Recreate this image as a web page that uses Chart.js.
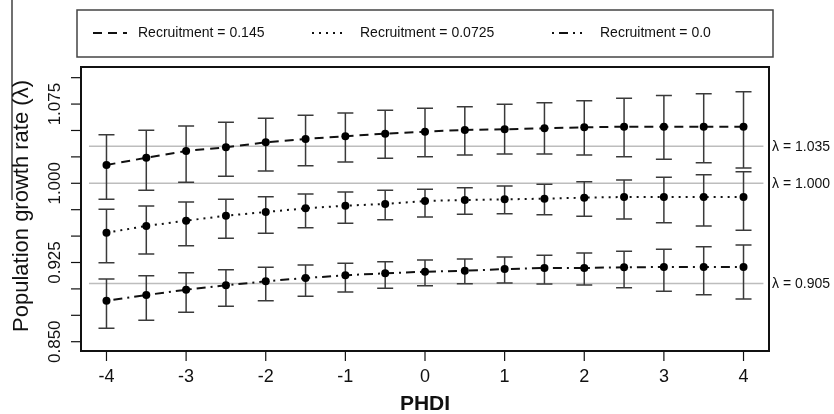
<!DOCTYPE html>
<html>
<head>
<meta charset="utf-8">
<script src="https://cdn.jsdelivr.net/npm/chart.js@4"></script>
<style>
  html, body { margin: 0; padding: 0; background: #fff; }
  #wrap { width: 834px; height: 414px; }
</style>
</head>
<body>
<div id="wrap"><canvas id="myChart" width="834" height="414"></canvas></div>
<script>
// PHDI values along the x axis
var phdi = [-4, -3.5, -3, -2.5, -2, -1.5, -1, -0.5, 0, 0.5, 1, 1.5, 2, 2.5, 3, 3.5, 4];

// recruitment = 0.145
var lam145 = [1.0173, 1.0242, 1.0306, 1.0341, 1.0388, 1.0420, 1.0445, 1.0470, 1.0489, 1.0505, 1.0511, 1.0521, 1.0530, 1.0536, 1.0536, 1.0536, 1.0536];
var lo145  = [0.9848, 0.9934, 1.0009, 1.0066, 1.0116, 1.0167, 1.0202, 1.0237, 1.0252, 1.0268, 1.0277, 1.0277, 1.0268, 1.0252, 1.0227, 1.0195, 1.0145];
var hi145  = [1.0460, 1.0502, 1.0543, 1.0578, 1.0616, 1.0644, 1.0666, 1.0691, 1.0710, 1.0725, 1.0748, 1.0763, 1.0782, 1.0804, 1.0830, 1.0848, 1.0867];

// recruitment = 0.0725
var lam0725 = [0.9532, 0.9596, 0.9646, 0.9693, 0.9728, 0.9763, 0.9788, 0.9804, 0.9832, 0.9842, 0.9848, 0.9854, 0.9864, 0.9870, 0.9870, 0.9870, 0.9870];
var lo0725  = [0.9248, 0.9330, 0.9409, 0.9479, 0.9527, 0.9580, 0.9621, 0.9655, 0.9681, 0.9706, 0.9712, 0.9703, 0.9688, 0.9662, 0.9627, 0.9596, 0.9555];
var hi0725  = [0.9754, 0.9785, 0.9823, 0.9848, 0.9873, 0.9899, 0.9918, 0.9934, 0.9943, 0.9958, 0.9974, 0.9991, 1.0015, 1.0031, 1.0057, 1.0081, 1.0110];

// recruitment = 0.0
var lam0 = [0.8888, 0.8942, 0.8992, 0.9034, 0.9072, 0.9103, 0.9129, 0.9148, 0.9163, 0.9172, 0.9188, 0.9198, 0.9198, 0.9205, 0.9207, 0.9207, 0.9207];
var lo0  = [0.8627, 0.8703, 0.8778, 0.8835, 0.8888, 0.8930, 0.8971, 0.9006, 0.9030, 0.9049, 0.9056, 0.9046, 0.9037, 0.9011, 0.8977, 0.8945, 0.8904];
var hi0  = [0.9094, 0.9125, 0.9153, 0.9182, 0.9205, 0.9226, 0.9242, 0.9258, 0.9274, 0.9283, 0.9302, 0.9318, 0.9340, 0.9356, 0.9375, 0.9400, 0.9416];

var seriesLabels = ['Recruitment = 0.145', 'Recruitment = 0.0725', 'Recruitment = 0.0'];
var refLines = [1.035, 1.000, 0.905];
var refLabels = ['\u03bb = 1.035', '\u03bb = 1.000', '\u03bb = 0.905'];
var yTicks = [0.850, 0.875, 0.900, 0.925, 0.950, 0.975, 1.000, 1.025, 1.050, 1.075, 1.100];
var yTickLabels = ['0.850', '', '', '0.925', '', '', '1.000', '', '', '1.075', ''];
var xTicks = [-4, -3, -2, -1, 0, 1, 2, 3, 4];

var dashes = [[9, 6], [2, 5], [2, 5, 9, 5]];
var FONT = '"Liberation Sans", Arial, sans-serif';

function pts(ys) {
  return phdi.map(function (x, i) { return { x: x, y: ys[i] }; });
}

var bars = [[lo145, hi145], [lo0725, hi0725], [lo0, hi0]];

// reference lines + error bars under the series
var underlay = {
  id: 'underlay',
  beforeDatasetsDraw: function (chart) {
    var c = chart.ctx, xs = chart.scales.x, ys = chart.scales.y;
    c.save();
    c.strokeStyle = '#bdbdbd';
    c.lineWidth = 1.5;
    refLines.forEach(function (v) {
      var py = ys.getPixelForValue(v);
      c.beginPath();
      c.moveTo(xs.getPixelForValue(-4.22), py);
      c.lineTo(xs.getPixelForValue(4.25), py);
      c.stroke();
    });
    c.strokeStyle = '#3a3a3a';
    c.lineWidth = 1.5;
    bars.forEach(function (b) {
      phdi.forEach(function (x, i) {
        var px = xs.getPixelForValue(x);
        var y1 = ys.getPixelForValue(b[0][i]);
        var y2 = ys.getPixelForValue(b[1][i]);
        c.beginPath();
        c.moveTo(px, y1); c.lineTo(px, y2);
        c.moveTo(px - 8, y1); c.lineTo(px + 8, y1);
        c.moveTo(px - 8, y2); c.lineTo(px + 8, y2);
        c.stroke();
      });
    });
    c.restore();
  }
};

// box, ticks, labels, legend
var frame = {
  id: 'frame',
  afterDraw: function (chart) {
    var c = chart.ctx, a = chart.chartArea, xs = chart.scales.x, ys = chart.scales.y;
    c.save();
    c.strokeStyle = '#111';
    c.lineWidth = 2;
    c.strokeRect(a.left, a.top, a.right - a.left, a.bottom - a.top);

    c.lineWidth = 1.2;
    c.fillStyle = '#111';
    // y ticks, labels rotated
    yTicks.forEach(function (v, i) {
      var py = ys.getPixelForValue(v);
      c.beginPath(); c.moveTo(a.left, py); c.lineTo(a.left - 10, py); c.stroke();
      if (yTickLabels[i]) {
        c.save();
        c.translate(55, py);
        c.rotate(-Math.PI / 2);
        c.font = '17px ' + FONT;
        c.textAlign = 'center';
        c.textBaseline = 'middle';
        c.fillText(yTickLabels[i], 0, 0);
        c.restore();
      }
    });
    // x ticks
    c.font = '18px ' + FONT;
    c.textAlign = 'center';
    c.textBaseline = 'middle';
    xTicks.forEach(function (v) {
      var px = xs.getPixelForValue(v);
      c.beginPath(); c.moveTo(px, a.bottom); c.lineTo(px, a.bottom + 10); c.stroke();
      c.fillText(String(v), px, 377);
    });
    // axis titles
    c.font = 'bold 21px ' + FONT;
    c.fillText('PHDI', (a.left + a.right) / 2, 404);
    c.save();
    c.translate(22, 206);
    c.rotate(-Math.PI / 2);
    c.font = '22px ' + FONT;
    c.fillText('Population growth rate (\u03bb)', 0, 0);
    c.restore();
    c.beginPath(); c.moveTo(12, 0); c.lineTo(12, 200); c.stroke();

    // lambda labels on the right
    c.font = '14px ' + FONT;
    c.textAlign = 'left';
    refLines.forEach(function (v, i) {
      c.fillText(refLabels[i], a.right + 3, ys.getPixelForValue(v) + 1);
    });

    // legend box
    c.strokeStyle = '#444';
    c.lineWidth = 1.5;
    c.strokeRect(77, 10, 696, 47);
    var sx = [[93, 127, 138], [312, 342, 360], [552, 582, 600]];
    c.font = '14px ' + FONT;
    c.strokeStyle = '#111';
    c.lineWidth = 2;
    sx.forEach(function (s, i) {
      c.setLineDash(dashes[i]);
      c.beginPath(); c.moveTo(s[0], 33); c.lineTo(s[1], 33); c.stroke();
      c.setLineDash([]);
      c.fillText(seriesLabels[i], s[2], 33);
    });
    c.restore();
  }
};

var ctx = document.getElementById('myChart').getContext('2d');
var myChart = new Chart(ctx, {
  type: 'line',
  data: {
    datasets: [
      { label: seriesLabels[0], data: pts(lam145), borderDash: dashes[0] },
      { label: seriesLabels[1], data: pts(lam0725), borderDash: dashes[1] },
      { label: seriesLabels[2], data: pts(lam0), borderDash: dashes[2] }
    ].map(function (d) {
      d.borderColor = '#111';
      d.borderWidth = 2;
      d.pointRadius = 4;
      d.pointBackgroundColor = '#000';
      d.pointBorderColor = '#000';
      d.pointBorderWidth = 0;
      d.tension = 0;
      return d;
    })
  },
  options: {
    responsive: false,
    animation: false,
    layout: { padding: { left: 81, right: 65, top: 67, bottom: 63 } },
    scales: {
      x: { type: 'linear', min: -4.32, max: 4.32, display: false },
      y: { type: 'linear', min: 0.8412, max: 1.1101, display: false }
    },
    plugins: {
      legend: { display: false },
      tooltip: { enabled: false }
    }
  },
  plugins: [underlay, frame]
});
</script>
</body>
</html>
